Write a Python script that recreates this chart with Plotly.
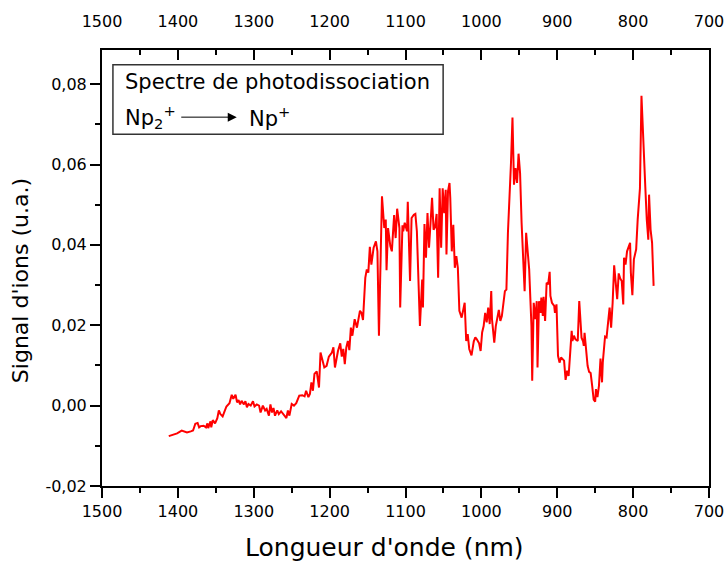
import plotly.graph_objects as go

# ---------------- data ----------------
wavelength_nm = [
    1412, 1405, 1401, 1395, 1392, 1388, 1383, 1380, 1377, 1374, 1372, 1370, 1366, 1363, 1361, 1360,
    1357, 1356, 1354, 1351, 1348, 1346, 1344, 1341, 1339, 1336, 1332, 1329, 1327, 1324, 1322, 1320,
    1318, 1316, 1313, 1311, 1309, 1307, 1304, 1301, 1299, 1296, 1293, 1291, 1288, 1285, 1283, 1280,
    1278, 1276, 1274, 1272, 1269, 1267, 1264, 1261, 1257, 1255, 1253, 1250, 1247, 1244, 1242, 1240,
    1236, 1233, 1231, 1228, 1226, 1224, 1222, 1220, 1217, 1214, 1212, 1209, 1207, 1204, 1201, 1197,
    1195, 1193, 1191, 1189, 1186, 1184, 1182, 1180, 1178, 1176, 1174, 1172, 1170, 1167, 1164, 1162,
    1160, 1158, 1156, 1153, 1151, 1149, 1147, 1145, 1142, 1139, 1137, 1135, 1132, 1131, 1128, 1126,
    1125, 1123, 1120, 1118, 1115, 1113, 1111, 1108, 1107, 1104, 1103, 1101, 1098, 1097, 1094, 1092,
    1089, 1087, 1085, 1083, 1081, 1078, 1077, 1075, 1073, 1071, 1069, 1065, 1063, 1061, 1059, 1057,
    1055, 1053, 1051, 1049, 1047, 1046, 1044, 1042, 1041, 1039, 1037, 1035, 1033, 1031, 1029, 1026,
    1022, 1020, 1018, 1016, 1013, 1010, 1008, 1006, 1003, 1001, 999, 997, 995, 993, 991, 989,
    987, 986, 983, 981, 977, 975, 973, 969, 967, 965, 963, 961, 959, 957, 955, 953,
    951, 949, 947, 945, 943, 941, 939, 937, 934, 933, 931, 929, 927, 926, 924, 922,
    921, 919, 918, 916, 914, 912, 910, 909, 907, 904, 903, 901, 899, 897, 895, 892,
    891, 889, 887, 885, 883, 881, 880, 878, 876, 873, 871, 869, 868, 866, 865, 864,
    862, 860, 858, 856, 854, 852, 850, 849, 847, 845, 843, 841, 840, 837, 835, 833,
    831, 829, 827, 825, 823, 821, 819, 817, 815, 813, 812, 810, 808, 806, 804, 803,
    801, 799, 796, 794, 792, 791, 789, 787, 784, 782, 780, 779, 777, 775, 773,
]

signal_ua = [
    -0.0076, -0.0072, -0.0069, -0.0062, -0.0064, -0.0067, -0.0064, -0.0062, -0.0045, -0.0043, -0.0054, -0.0051, -0.0050, -0.0054, -0.0044, -0.0056,
    -0.0039, -0.0054, -0.0036, -0.0044, -0.0031, -0.0012, -0.0021, -0.0027, -0.0017, -0.0002, 0.0006, 0.0027, 0.0017, 0.0027, 0.0008, 0.0014,
    0.0003, 0.0012, 0.0003, 0.0011, -0.0004, 0.0004, 0.0000, 0.0011, -0.0002, 0.0003, 0.0000, -0.0017, 0.0000, -0.0012, -0.0008, -0.0025,
    0.0003, -0.0017, -0.0006, -0.0025, -0.0012, -0.0021, -0.0014, -0.0021, -0.0031, -0.0012, -0.0025, 0.0004, 0.0000, 0.0006, 0.0017, 0.0025,
    0.0026, 0.0023, 0.0037, 0.0021, 0.0029, 0.0058, 0.0037, 0.0079, 0.0085, 0.0045, 0.0132, 0.0107, 0.0095, 0.0099, 0.0122, 0.0132,
    0.0145, 0.0095, 0.0120, 0.0136, 0.0155, 0.0122, 0.0141, 0.0103, 0.0145, 0.0161, 0.0138, 0.0194, 0.0174, 0.0215, 0.0194, 0.0211,
    0.0236, 0.0231, 0.0213, 0.0318, 0.0339, 0.0331, 0.0395, 0.0351, 0.0393, 0.0409, 0.0384, 0.0174, 0.0459, 0.0521, 0.0442, 0.0463,
    0.0337, 0.0442, 0.0397, 0.0384, 0.0474, 0.0417, 0.0490, 0.0442, 0.0244, 0.0449, 0.0434, 0.0455, 0.0434, 0.0507, 0.0310, 0.0467,
    0.0475, 0.0477, 0.0434, 0.0335, 0.0198, 0.0314, 0.0244, 0.0452, 0.0368, 0.0479, 0.0393, 0.0517, 0.0438, 0.0444, 0.0477, 0.0318,
    0.0541, 0.0393, 0.0541, 0.0479, 0.0537, 0.0376, 0.0533, 0.0554, 0.0517, 0.0384, 0.0450, 0.0343, 0.0372, 0.0343, 0.0236, 0.0219,
    0.0256, 0.0161, 0.0178, 0.0141, 0.0125, 0.0160, 0.0170, 0.0165, 0.0155, 0.0136, 0.0182, 0.0198, 0.0231, 0.0207, 0.0244, 0.0203,
    0.0285, 0.0215, 0.0157, 0.0198, 0.0238, 0.0211, 0.0223, 0.0285, 0.0289, 0.0430, 0.0504, 0.0603, 0.0717, 0.0550, 0.0591, 0.0554,
    0.0627, 0.0579, 0.0455, 0.0372, 0.0285, 0.0430, 0.0389, 0.0339, 0.0198, 0.0062, 0.0256, 0.0215, 0.0260, 0.0095, 0.0260, 0.0231,
    0.0269, 0.0223, 0.0271, 0.0211, 0.0306, 0.0302, 0.0333, 0.0273, 0.0256, 0.0248, 0.0231, 0.0252, 0.0124, 0.0107, 0.0120, 0.0114,
    0.0112, 0.0064, 0.0087, 0.0074, 0.0132, 0.0186, 0.0161, 0.0174, 0.0165, 0.0161, 0.0260, 0.0174, 0.0169, 0.0160, 0.0149, 0.0181,
    0.0132, 0.0099, 0.0084, 0.0081, 0.0050, 0.0015, 0.0010, 0.0041, 0.0021, 0.0050, 0.0117, 0.0058, 0.0107, 0.0172, 0.0170, 0.0219,
    0.0244, 0.0194, 0.0256, 0.0349, 0.0306, 0.0265, 0.0329, 0.0316, 0.0310, 0.0252, 0.0368, 0.0351, 0.0384, 0.0397, 0.0405, 0.0331,
    0.0275, 0.0364, 0.0389, 0.0463, 0.0504, 0.0541, 0.0771, 0.0661, 0.0546, 0.0463, 0.0413, 0.0525, 0.0438, 0.0405, 0.0298,
]

x_tick_vals = [1500, 1400, 1300, 1200, 1100, 1000, 900, 800, 700]
x_tick_text = ["1500", "1400", "1300", "1200", "1100", "1000", "900", "800", "700"]
x_minor_vals = [1450, 1350, 1250, 1150, 1050, 950, 850, 750]
y_tick_vals = [-0.02, 0.00, 0.02, 0.04, 0.06, 0.08]
y_tick_text = ["-0,02", "0,00", "0,02", "0,04", "0,06", "0,08"]
y_minor_vals = [-0.01, 0.01, 0.03, 0.05, 0.07]

x_title = "Longueur d'onde (nm)"
y_title = "Signal d'ions (u.a.)"
box_title = "Spectre de photodissociation"
reactant = "Np<sub>2</sub><sup>+</sup>"
product = "Np<sup>+</sup>"

# ---------------- figure ----------------
W, H = 724, 561
ML, MR, MT, MB = 102, 15, 50, 75
FONT = "DejaVu Sans"

fig = go.Figure()
fig.add_trace(go.Scatter(
    x=wavelength_nm, y=signal_ua, mode="lines",
    line=dict(color="#ff0000", width=2), showlegend=False, hoverinfo="skip",
))
# invisible copy so the top axis is drawn
fig.add_trace(go.Scatter(
    x=wavelength_nm, y=signal_ua, mode="lines", xaxis="x2",
    line=dict(color="rgba(0,0,0,0)", width=0), showlegend=False, hoverinfo="skip",
))

axis_common = dict(showgrid=False, zeroline=False, tickcolor="black", tickwidth=1.5,
                   ticklabeloverflow="allow",
                   tickfont=dict(family=FONT, size=16, color="black"))

fig.update_layout(
    width=W, height=H,
    margin=dict(l=ML, r=MR, t=MT, b=MB, autoexpand=False),
    paper_bgcolor="white", plot_bgcolor="white",
    font=dict(family=FONT, color="black", size=16),
    showlegend=False,
    xaxis=dict(
        range=[1500, 700], tickmode="array", tickvals=x_tick_vals, ticktext=x_tick_text,
        ticks="outside", ticklen=10, showline=True, linecolor="black", linewidth=2, mirror=True,
        minor=dict(tickmode="array", tickvals=x_minor_vals, ticks="outside", ticklen=5,
                   tickcolor="black", tickwidth=1.5, showgrid=False),
        **axis_common,
    ),
    xaxis2=dict(
        overlaying="x", side="top", anchor="y", range=[1500, 700], tickmode="array",
        tickvals=x_tick_vals, ticktext=x_tick_text, ticks="inside", ticklen=10,
        showline=False, ticklabelstandoff=19,
        minor=dict(tickmode="array", tickvals=x_minor_vals, ticks="inside", ticklen=5,
                   tickcolor="black", tickwidth=1.5, showgrid=False),
        **axis_common,
    ),
    yaxis=dict(
        range=[-0.02, 0.0885], tickmode="array", tickvals=y_tick_vals, ticktext=y_tick_text,
        ticks="outside", ticklen=10, showline=True, linecolor="black", linewidth=2, mirror=True,
        minor=dict(tickmode="array", tickvals=y_minor_vals, ticks="outside", ticklen=5,
                   tickcolor="black", tickwidth=1.5, showgrid=False),
        **axis_common,
    ),
)

# axis titles (placed as in the reference)
fig.add_annotation(text=x_title, xref="paper", yref="paper", x=0.466, y=-0.142,
                   xanchor="center", yanchor="middle", showarrow=False,
                   font=dict(family=FONT, size=25, color="black"))
fig.add_annotation(text=y_title, xref="paper", yref="paper", x=-0.135, y=0.470,
                   xanchor="center", yanchor="middle", showarrow=False, textangle=-90,
                   font=dict(family=FONT, size=22, color="black"))

# legend-like box
fig.add_shape(type="rect", xref="paper", yref="paper", x0=0.018, x1=0.562, y0=0.807, y1=0.966,
              line=dict(color="#333333", width=1.5), fillcolor="white", layer="above")
fig.add_annotation(text=box_title, xref="paper", yref="paper", x=0.0346, y=0.927,
                   xanchor="left", yanchor="middle", showarrow=False,
                   font=dict(family=FONT, size=21, color="black"))
fig.add_annotation(text=reactant, xref="paper", yref="paper", x=0.0346, y=0.846,
                   xanchor="left", yanchor="middle", showarrow=False,
                   font=dict(family=FONT, size=21, color="black"))
fig.add_annotation(text="", xref="paper", yref="paper", x=0.222, y=0.846,
                   ax=-57, ay=0, showarrow=True, arrowhead=2, arrowsize=1.8,
                   arrowwidth=1, arrowcolor="black", standoff=0)
fig.add_annotation(text=product, xref="paper", yref="paper", x=0.239, y=0.846,
                   xanchor="left", yanchor="middle", showarrow=False,
                   font=dict(family=FONT, size=21, color="black"))

fig.write_html("out.html", config={"displayModeBar": False},
               post_script="document.body.style.margin='0px';")
